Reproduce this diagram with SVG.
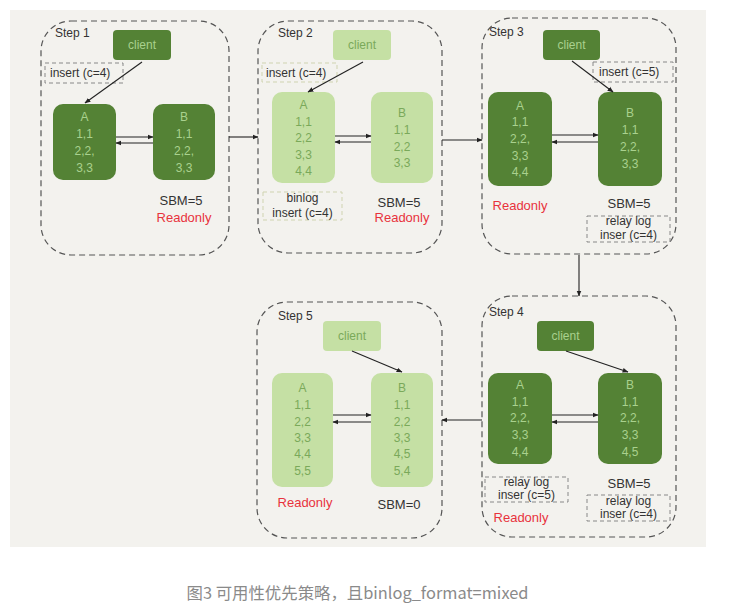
<svg xmlns="http://www.w3.org/2000/svg" width="734" height="611" viewBox="0 0 734 611">
<defs>
<marker id="ah" viewBox="0 0 10 10" refX="9" refY="5" markerWidth="6" markerHeight="6" orient="auto" markerUnits="userSpaceOnUse">
<path d="M0,1 L10,5 L0,9 z" fill="#222"/>
</marker>
<style>
.step{fill:none;stroke:#555;stroke-width:1.2;stroke-dasharray:6 4}
.dk{fill:#548235}
.lt{fill:#c5e0a4}
.tdk{fill:#a9d18e;font-family:"Liberation Sans",Arial,sans-serif;font-size:12px;text-anchor:middle}
.tlt{fill:#7aa95a;font-family:"Liberation Sans",Arial,sans-serif;font-size:12px;text-anchor:middle}
.lbl{fill:#333;font-family:"Liberation Sans",Arial,sans-serif;font-size:12px}
.ctr{text-anchor:middle}
.sbm{fill:#333;font-family:"Liberation Sans",Arial,sans-serif;font-size:13px;text-anchor:middle}
.ro{fill:#e8323c;font-family:"Liberation Sans",Arial,sans-serif;font-size:13px;text-anchor:middle}
.db{fill:none;stroke:#888;stroke-width:1;stroke-dasharray:4 3}
.dbl{fill:none;stroke:#cfd3b0;stroke-width:1;stroke-dasharray:4 3}
.ln{stroke:#222;stroke-width:1.1;fill:none;marker-end:url(#ah)}
</style>
</defs>
<rect x="10" y="10" width="696" height="537" fill="#f3f2ee"/>

<g id="step1">
<rect class="step" x="41" y="21" width="188" height="234" rx="30"/>
<text class="lbl" x="55" y="37">Step 1</text>
<g id="s1-client"><rect class="dk" x="113" y="30" width="58" height="30" rx="4"/><text class="tdk" x="142" y="49">client</text></g>
<rect class="db" x="45" y="63" width="78" height="20"/>
<text class="lbl" x="50" y="77">insert (c=4)</text>
<g id="s1-A"><rect class="dk" x="53" y="104" width="63" height="76" rx="10"/>
<text class="tdk" x="84.5" y="121">A</text><text class="tdk" x="84.5" y="138">1,1</text><text class="tdk" x="84.5" y="155">2,2,</text><text class="tdk" x="84.5" y="172">3,3</text></g>
<g id="s1-B"><rect class="dk" x="153" y="104" width="62" height="76" rx="10"/>
<text class="tdk" x="184" y="121">B</text><text class="tdk" x="184" y="138">1,1</text><text class="tdk" x="184" y="155">2,2,</text><text class="tdk" x="184" y="172">3,3</text></g>
<text class="sbm" x="181" y="205">SBM=5</text>
<text class="ro" x="184" y="222">Readonly</text>
</g>

<g id="step2">
<rect class="step" x="258" y="21" width="184" height="232" rx="30"/>
<text class="lbl" x="278" y="37">Step 2</text>
<g id="s2-client"><rect class="lt" x="333" y="30" width="58" height="30" rx="4"/><text class="tlt" x="362" y="49">client</text></g>
<rect class="dbl" x="262" y="63" width="75" height="19"/>
<text class="lbl" x="266" y="77">insert (c=4)</text>
<g id="s2-A"><rect class="lt" x="272" y="92" width="63" height="91" rx="10"/>
<text class="tlt" x="303.5" y="109">A</text><text class="tlt" x="303.5" y="126">1,1</text><text class="tlt" x="303.5" y="142">2,2</text><text class="tlt" x="303.5" y="159">3,3</text><text class="tlt" x="303.5" y="175">4,4</text></g>
<g id="s2-B"><rect class="lt" x="371" y="92" width="62" height="91" rx="10"/>
<text class="tlt" x="402" y="117">B</text><text class="tlt" x="402" y="134">1,1</text><text class="tlt" x="402" y="151">2,2</text><text class="tlt" x="402" y="167">3,3</text></g>
<rect class="dbl" x="263" y="192" width="79" height="28"/>
<text class="lbl ctr" x="302.5" y="202">binlog</text>
<text class="lbl ctr" x="302.5" y="217">insert (c=4)</text>
<text class="sbm" x="399" y="207">SBM=5</text>
<text class="ro" x="402" y="222">Readonly</text>
</g>

<g id="step3">
<rect class="step" x="482" y="18" width="194" height="236" rx="30"/>
<text class="lbl" x="489" y="36">Step 3</text>
<g id="s3-client"><rect class="dk" x="543" y="30" width="57" height="30" rx="4"/><text class="tdk" x="571.5" y="49">client</text></g>
<rect class="db" x="593" y="62" width="80" height="20"/>
<text class="lbl" x="599" y="76">insert (c=5)</text>
<g id="s3-A"><rect class="dk" x="488" y="92" width="64" height="94" rx="10"/>
<text class="tdk" x="520" y="110">A</text><text class="tdk" x="520" y="126">1,1</text><text class="tdk" x="520" y="143">2,2,</text><text class="tdk" x="520" y="160">3,3</text><text class="tdk" x="520" y="176">4,4</text></g>
<g id="s3-B"><rect class="dk" x="598" y="92" width="64" height="94" rx="10"/>
<text class="tdk" x="630" y="117">B</text><text class="tdk" x="630" y="134">1,1</text><text class="tdk" x="630" y="151">2,2,</text><text class="tdk" x="630" y="168">3,3</text></g>
<text class="ro" x="520" y="210">Readonly</text>
<text class="sbm" x="629" y="208">SBM=5</text>
<rect class="db" x="587" y="216" width="83" height="26"/>
<text class="lbl ctr" x="628.5" y="225">relay log</text>
<text class="lbl ctr" x="628.5" y="239">inser (c=4)</text>
</g>

<g id="step4">
<rect class="step" x="482" y="296" width="194" height="241" rx="30"/>
<text class="lbl" x="489" y="316">Step 4</text>
<g id="s4-client"><rect class="dk" x="537" y="321" width="57" height="30" rx="4"/><text class="tdk" x="565.5" y="340">client</text></g>
<g id="s4-A"><rect class="dk" x="488" y="373" width="64" height="91" rx="10"/>
<text class="tdk" x="520" y="389">A</text><text class="tdk" x="520" y="406">1,1</text><text class="tdk" x="520" y="422">2,2,</text><text class="tdk" x="520" y="439">3,3</text><text class="tdk" x="520" y="456">4,4</text></g>
<g id="s4-B"><rect class="dk" x="598" y="373" width="64" height="91" rx="10"/>
<text class="tdk" x="630" y="389">B</text><text class="tdk" x="630" y="406">1,1</text><text class="tdk" x="630" y="422">2,2,</text><text class="tdk" x="630" y="439">3,3</text><text class="tdk" x="630" y="456">4,5</text></g>
<rect class="db" x="485" y="477" width="83" height="25"/>
<text class="lbl ctr" x="526.5" y="486">relay log</text>
<text class="lbl ctr" x="526.5" y="499">inser (c=5)</text>
<text class="ro" x="521" y="522">Readonly</text>
<text class="sbm" x="629" y="488">SBM=5</text>
<rect class="db" x="587" y="495" width="83" height="26"/>
<text class="lbl ctr" x="628.5" y="505">relay log</text>
<text class="lbl ctr" x="628.5" y="518">inser (c=4)</text>
</g>

<g id="step5">
<rect class="step" x="257" y="302" width="185" height="236" rx="30"/>
<text class="lbl" x="278" y="320">Step 5</text>
<g id="s5-client"><rect class="lt" x="323" y="321" width="58" height="30" rx="4"/><text class="tlt" x="352" y="340">client</text></g>
<g id="s5-A"><rect class="lt" x="272" y="373" width="61" height="114" rx="10"/>
<text class="tlt" x="302.5" y="392">A</text><text class="tlt" x="302.5" y="409">1,1</text><text class="tlt" x="302.5" y="426">2,2</text><text class="tlt" x="302.5" y="442">3,3</text><text class="tlt" x="302.5" y="458">4,4</text><text class="tlt" x="302.5" y="475">5,5</text></g>
<g id="s5-B"><rect class="lt" x="371" y="373" width="62" height="114" rx="10"/>
<text class="tlt" x="402" y="392">B</text><text class="tlt" x="402" y="409">1,1</text><text class="tlt" x="402" y="426">2,2</text><text class="tlt" x="402" y="442">3,3</text><text class="tlt" x="402" y="458">4,5</text><text class="tlt" x="402" y="475">5,4</text></g>
<text class="ro" x="305" y="507">Readonly</text>
<text class="sbm" x="399" y="509">SBM=0</text>
</g>

<g id="connectors">
<line class="ln" x1="142" y1="62" x2="85" y2="103"/>
<line class="ln" x1="116" y1="137" x2="153" y2="137"/>
<line class="ln" x1="153" y1="143" x2="116" y2="143"/>
<line class="ln" x1="229" y1="137" x2="258" y2="137"/>
<line class="ln" x1="363" y1="62" x2="308" y2="92"/>
<line class="ln" x1="335" y1="136" x2="371" y2="136"/>
<line class="ln" x1="371" y1="142" x2="335" y2="142"/>
<line class="ln" x1="442" y1="140" x2="482" y2="140"/>
<line class="ln" x1="572" y1="61" x2="613" y2="92"/>
<line class="ln" x1="552" y1="135" x2="598" y2="135"/>
<line class="ln" x1="598" y1="142" x2="552" y2="142"/>
<line class="ln" x1="579" y1="255" x2="579" y2="296"/>
<line class="ln" x1="566" y1="351" x2="628" y2="372"/>
<line class="ln" x1="552" y1="415" x2="598" y2="415"/>
<line class="ln" x1="598" y1="422" x2="552" y2="422"/>
<line class="ln" x1="482" y1="420" x2="442" y2="420"/>
<line class="ln" x1="352" y1="351" x2="402" y2="372"/>
<line class="ln" x1="333" y1="415" x2="371" y2="415"/>
<line class="ln" x1="371" y1="422" x2="333" y2="422"/>
</g>

<text x="357.5" y="599" fill="#8a8a8a" font-family="'Noto Sans CJK SC','Liberation Sans',sans-serif" font-size="16.4" text-anchor="middle">图3 可用性优先策略，且binlog_format=mixed</text>
</svg>
